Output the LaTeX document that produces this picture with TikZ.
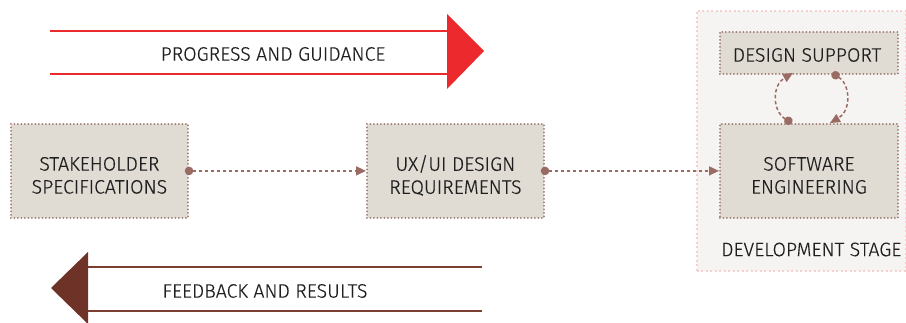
\documentclass[tikz,border=0pt]{standalone}
\usepackage{fontspec}
\setmainfont{Fira Sans Light}[FakeBold=0.4]
\usetikzlibrary{arrows.meta}
\definecolor{redA}{HTML}{EC2A2D}
\definecolor{brownA}{HTML}{6E3226}
\definecolor{brownL}{HTML}{7C3E31}
\definecolor{boxfill}{HTML}{E0DBD3}
\definecolor{boxline}{HTML}{9B7A72}
\definecolor{conn}{HTML}{9A6B62}
\definecolor{stagefill}{HTML}{F6F4F2}
\definecolor{stageline}{HTML}{F6CFCF}
\tikzset{
  stepbox/.style={draw=boxline, fill=boxfill, line width=1.8pt, dash pattern=on 0.1pt off 3.4pt, line cap=round, inner sep=0pt},
  lbl/.style={font=\fontsize{19.5}{23}\selectfont, text=black!88, align=center, inner sep=0pt},
  conn/.style={draw=conn, line width=1.5pt, dash pattern=on 3.5pt off 2.5pt, {Circle[length=8.5pt]}-{Triangle[length=10pt,width=9pt]}, shorten <=-4pt},
}
\begin{document}
\begin{tikzpicture}[x=1pt,y=-1pt]
\useasboundingbox (0,0) rectangle (906,322);
% development stage background
\node[draw=stageline, fill=stagefill, line width=1.5pt, dash pattern=on 2pt off 2.5pt, minimum width=209pt, minimum height=260pt, anchor=north west, inner sep=0pt] (stage) at (696,10) {};
% top arrow
\draw[redA, line width=1.8pt] (50,31) -- (448,31);
\draw[redA, line width=1.8pt] (50,74) -- (448,74);
\fill[redA] (447,14) -- (484,51) -- (447,89) -- cycle;
\node[lbl] (prog) at (273,54) {PROGRESS AND GUIDANCE};
% bottom arrow
\draw[brownL, line width=1.8pt] (87,267) -- (482,267);
\draw[brownL, line width=1.8pt] (87,311) -- (482,311);
\fill[brownA] (88,252) -- (51,288) -- (88,324) -- cycle;
\node[lbl] (feed) at (265,291) {FEEDBACK AND RESULTS};
% boxes
\node[stepbox, minimum width=177pt, minimum height=94pt, anchor=north west] (sh) at (10,123) {};
\node[lbl, yshift=-4.5pt] (shT) at (sh.center) {STAKEHOLDER\\SPECIFICATIONS};
\node[stepbox, minimum width=177pt, minimum height=94pt, anchor=north west] (ux) at (366,123) {};
\node[lbl, yshift=-4.5pt] (uxT) at (ux.center) {UX/UI DESIGN\\REQUIREMENTS};
\node[stepbox, minimum width=178pt, minimum height=94pt, anchor=north west] (sw) at (719,123) {};
\node[lbl, yshift=-4.5pt] (swT) at (sw.center) {SOFTWARE\\ENGINEERING};
\node[stepbox, minimum width=178pt, minimum height=42pt, anchor=north west] (ds) at (719,31) {};
\node[lbl] (dsT) at (807,55) {DESIGN SUPPORT};
\node[lbl, anchor=west] (devT) at (721,249.5) {DEVELOPMENT STAGE};
% connectors
\draw[conn] (sh.east) -- (ux.west);
\draw[conn] (ux.east) -- (sw.west);
\coordinate (a1) at (792,123);
\coordinate (a2) at (793,73);
\coordinate (b1) at (832,73);
\coordinate (b2) at (830,123);
\draw[conn, shorten <=0pt] (a1) .. controls (772,111) and (772,85) .. (a2);
\draw[conn, shorten <=0pt] (b1) .. controls (851,85) and (851,111) .. (b2);
\end{tikzpicture}
\end{document}
